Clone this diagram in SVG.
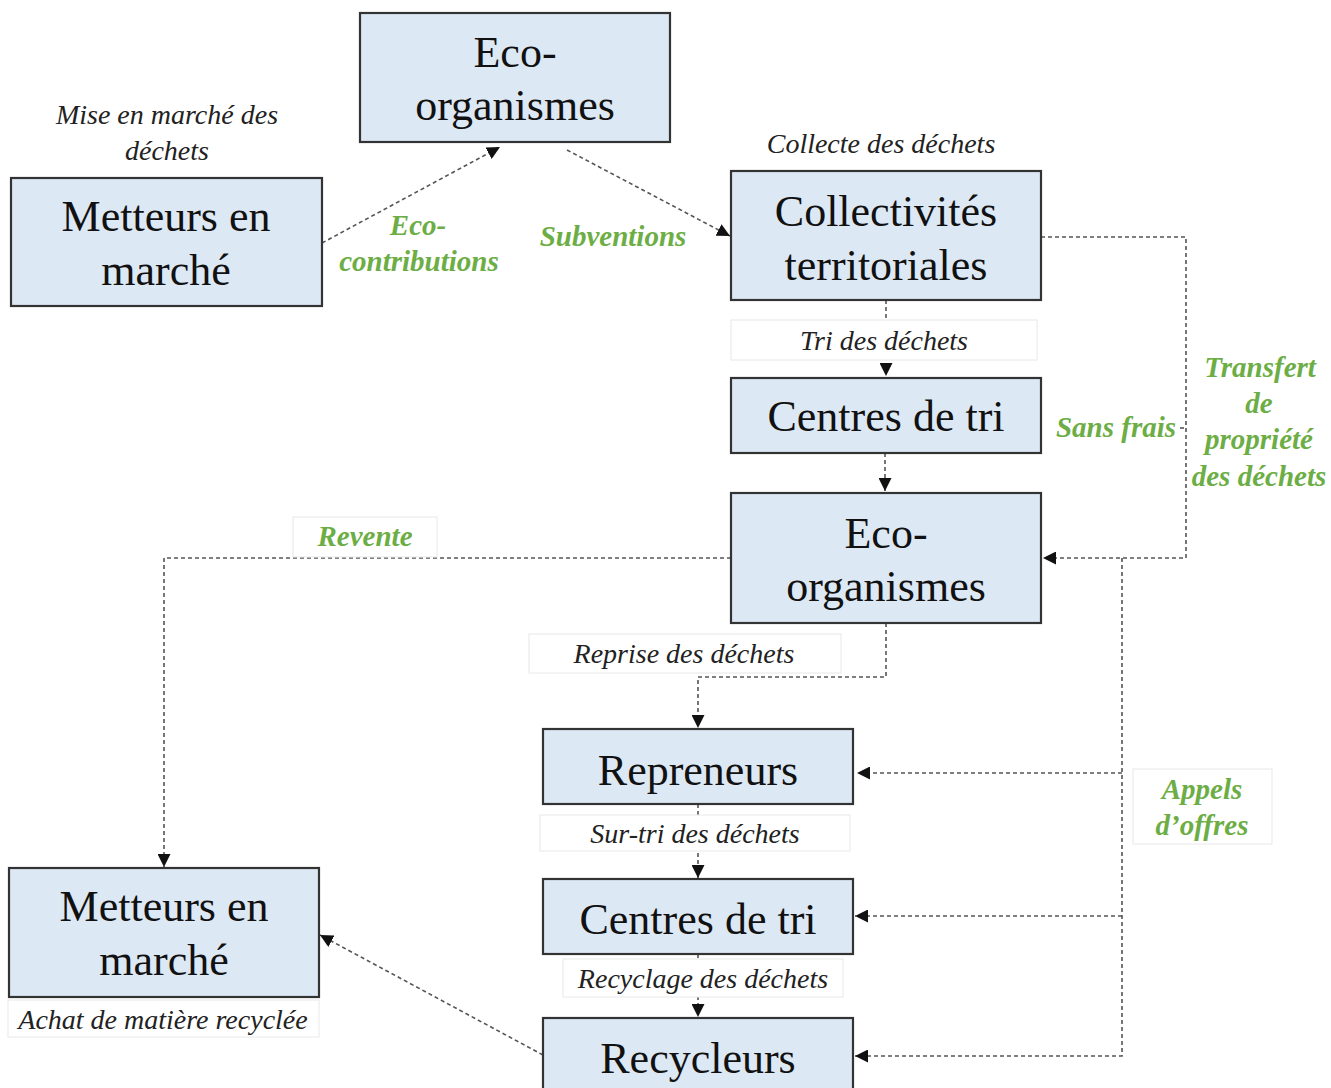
<svg xmlns="http://www.w3.org/2000/svg" width="1331" height="1088" viewBox="0 0 1331 1088">
<style>
.node rect{fill:#dde8f5;stroke:#333;stroke-width:2.2}
.node text{font-family:"Liberation Serif","Times New Roman",serif;font-size:44px;fill:#111;text-anchor:middle}
.conn{fill:none;stroke:#555;stroke-width:1.6;stroke-dasharray:4 3}
.lbox{fill:#fff;stroke:#e8e8e8;stroke-width:1}
.it{font-family:"Liberation Serif","Times New Roman",serif;font-style:italic;font-size:28px;fill:#222;text-anchor:middle}
.gr{font-family:"Liberation Serif","Times New Roman",serif;font-style:italic;font-weight:bold;font-size:29px;fill:#6cae45;text-anchor:middle}
</style>
<defs>
<marker id="ah" viewBox="0 0 10 10" refX="10" refY="5" markerWidth="13" markerHeight="13" markerUnits="userSpaceOnUse" orient="auto">
<path d="M0,0 L10,5 L0,10 z" fill="#111"/>
</marker>
</defs>
<rect width="1331" height="1088" fill="#fff"/>
<g id="connectors">
<path class="conn" d="M322,243 L500,147" marker-end="url(#ah)"/>
<path class="conn" d="M567,150 L730,236" marker-end="url(#ah)"/>
<path class="conn" d="M886,300 V376" marker-end="url(#ah)"/>
<path class="conn" d="M885,453 V491" marker-end="url(#ah)"/>
<path class="conn" d="M1041,237 H1186 V558 H1043" marker-end="url(#ah)"/>
<path class="conn" d="M1180,428 H1186"/>
<path class="conn" d="M731,558 H164 V867" marker-end="url(#ah)"/>
<path class="conn" d="M886,623 V677 H698 V728" marker-end="url(#ah)"/>
<path class="conn" d="M1122,558 V1056 H855" marker-end="url(#ah)"/>
<path class="conn" d="M1122,773 H857" marker-end="url(#ah)"/>
<path class="conn" d="M1122,916 H855" marker-end="url(#ah)"/>
<path class="conn" d="M698,804 V878" marker-end="url(#ah)"/>
<path class="conn" d="M698,954 V1017" marker-end="url(#ah)"/>
<path class="conn" d="M543,1055 L320,935" marker-end="url(#ah)"/>
</g>
<g id="labels">
<text class="it" x="167" y="124">Mise en marché des</text>
<text class="it" x="167" y="160">déchets</text>
<text class="it" x="881" y="153">Collecte des déchets</text>
<text class="gr" x="418" y="235">Eco-</text>
<text class="gr" x="419" y="271">contributions</text>
<text class="gr" x="613" y="246">Subventions</text>
<rect class="lbox" x="731" y="320" width="306" height="40"/>
<text class="it" x="884" y="350">Tri des déchets</text>
<text class="gr" x="1116" y="437">Sans frais</text>
<text class="gr" x="1260" y="377">Transfert</text>
<text class="gr" x="1259" y="413">de</text>
<text class="gr" x="1259" y="449">propriété</text>
<text class="gr" x="1259" y="486">des déchets</text>
<rect class="lbox" x="293" y="517" width="144" height="40"/>
<text class="gr" x="365" y="546">Revente</text>
<rect class="lbox" x="529" y="634" width="312" height="39"/>
<text class="it" x="684" y="663">Reprise des déchets</text>
<rect class="lbox" x="540" y="815" width="310" height="36"/>
<text class="it" x="695" y="843">Sur-tri des déchets</text>
<rect class="lbox" x="563" y="959" width="280" height="38"/>
<text class="it" x="703" y="988">Recyclage des déchets</text>
<rect class="lbox" x="8" y="1000" width="311" height="37"/>
<text class="it" x="163" y="1029">Achat de matière recyclée</text>
<rect class="lbox" x="1133" y="769" width="139" height="75"/>
<text class="gr" x="1202" y="799">Appels</text>
<text class="gr" x="1202" y="835">d’offres</text>
</g>
<g id="eco-top" class="node"><rect x="360" y="13" width="310" height="129"/><text x="515" y="67">Eco-</text><text x="515" y="120">organismes</text></g>
<g id="metteurs-top" class="node"><rect x="11" y="178" width="311" height="128"/><text x="166" y="231">Metteurs en</text><text x="166" y="285">marché</text></g>
<g id="collectivites" class="node"><rect x="731" y="171" width="310" height="129"/><text x="886" y="226">Collectivités</text><text x="886" y="280">territoriales</text></g>
<g id="centres-tri-1" class="node"><rect x="731" y="378" width="310" height="75"/><text x="886" y="431">Centres de tri</text></g>
<g id="eco-mid" class="node"><rect x="731" y="493" width="310" height="130"/><text x="886" y="548">Eco-</text><text x="886" y="601">organismes</text></g>
<g id="repreneurs" class="node"><rect x="543" y="729" width="310" height="75"/><text x="698" y="785">Repreneurs</text></g>
<g id="centres-tri-2" class="node"><rect x="543" y="879" width="310" height="75"/><text x="698" y="934">Centres de tri</text></g>
<g id="recycleurs" class="node"><rect x="543" y="1018" width="310" height="80"/><text x="698" y="1073">Recycleurs</text></g>
<g id="metteurs-bottom" class="node"><rect x="9" y="868" width="310" height="129"/><text x="164" y="921">Metteurs en</text><text x="164" y="975">marché</text></g>
</svg>
